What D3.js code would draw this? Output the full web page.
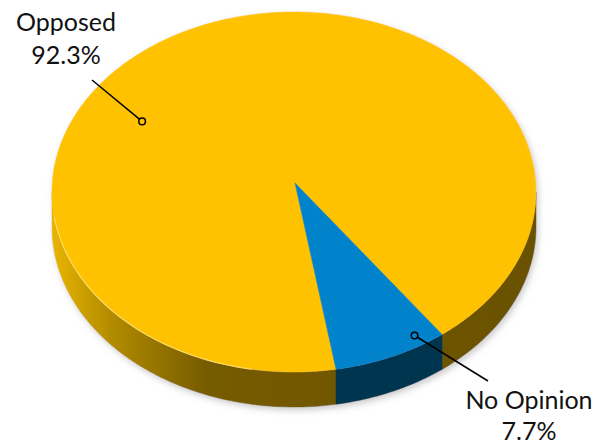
<!DOCTYPE html>
<html lang="en">
<head>
<meta charset="UTF-8">
<title>Opinion pie</title>
<script src="https://d3js.org/d3.v7.min.js"></script>
<style>
  body { margin: 0; background: #fff; }
  text { font-family: Lato, "Open Sans", sans-serif; fill: #111; }
</style>
</head>
<body>
<div id="chart"></div>
<script>
// data
var categories = ["Opposed", "No Opinion"];
var shares = [92.3, 7.7];
var pctLabels = ["92.3%", "7.7%"];

var width = 600, height = 445;
var cx = 294, cy = 192, rx = 242, ry = 180, depth = 35;
var apex = [295, 183];

var topColors = ["#ffc200", "#0583cb"];
var sideColors = ["url(#goldSide)", "#003550"];

var svg = d3.select("#chart").append("svg")
    .attr("width", width)
    .attr("height", height);

var defs = svg.append("defs");
var g1 = defs.append("linearGradient").attr("id", "goldSide")
    .attr("gradientUnits", "userSpaceOnUse")
    .attr("x1", cx - rx).attr("x2", cx + rx).attr("y1", 0).attr("y2", 0);
g1.append("stop").attr("offset", "0%").attr("stop-color", "#e8b500");
g1.append("stop").attr("offset", "12%").attr("stop-color", "#b38c00");
g1.append("stop").attr("offset", "32%").attr("stop-color", "#765b00");
g1.append("stop").attr("offset", "100%").attr("stop-color", "#6a5100");

var f = defs.append("filter").attr("id", "shadow")
    .attr("x", "-10%").attr("y", "-10%").attr("width", "120%").attr("height", "130%");
f.append("feDropShadow").attr("dx", 2).attr("dy", 3).attr("stdDeviation", 3)
    .attr("flood-color", "#999").attr("flood-opacity", 0.5);

// d3 angle (0 = 12 o'clock, clockwise) -> point on the top ellipse
function pt(a, dy) {
  return [cx + rx * Math.sin(a), cy - ry * Math.cos(a) + (dy || 0)];
}
function arcPts(a0, a1, dy) {
  var n = Math.max(2, Math.ceil(Math.abs(a1 - a0) / 0.02));
  return d3.range(n + 1).map(function(i) { return pt(a0 + (a1 - a0) * i / n, dy); });
}
var line = d3.line();

var pie = d3.pie().sort(null)
    .startAngle(170 * Math.PI / 180)
    .endAngle(170 * Math.PI / 180 + 2 * Math.PI);
var arcs = pie(shares);

var pieG = svg.append("g").attr("filter", "url(#shadow)");

// side walls: only the front half (d3 angles 90deg..270deg) is visible
var front0 = Math.PI / 2, front1 = 3 * Math.PI / 2;
arcs.forEach(function(d, i) {
  [-2 * Math.PI, 0, 2 * Math.PI].forEach(function(shift) {
    var a0 = Math.max(d.startAngle + shift, front0);
    var a1 = Math.min(d.endAngle + shift, front1);
    if (a1 <= a0) return;
    var pts = arcPts(a0, a1, 0).concat(arcPts(a1, a0, depth));
    pieG.append("path")
        .attr("d", line(pts) + "Z")
        .attr("fill", sideColors[i])
        .attr("stroke", sideColors[i])
        .attr("stroke-width", 0.5);
  });
});

// top face
arcs.forEach(function(d, i) {
  var pts = [apex].concat(arcPts(d.startAngle, d.endAngle, 0));
  pieG.append("path")
      .attr("d", line(pts) + "Z")
      .attr("fill", topColors[i])
      .attr("stroke", topColors[i])
      .attr("stroke-width", 0.5);
});

// faint rim highlight on the front-left edge
svg.append("path")
    .attr("d", line(arcPts(190 * Math.PI / 180, 262 * Math.PI / 180, 0)))
    .attr("fill", "none")
    .attr("stroke", "#ffe27a")
    .attr("stroke-width", 1.2)
    .attr("opacity", 0.8);

// labels
var anchors = [
  { a: 302 * Math.PI / 180, r: 0.74, end: [92, 80], tx: 66, ty: [31, 64] },
  { a: 148 * Math.PI / 180, r: 0.94, end: [488, 381], tx: 529, ty: [409, 440] }
];
var labG = svg.append("g");
arcs.forEach(function(d, i) {
  var L = anchors[i];
  var p = [cx + rx * L.r * Math.sin(L.a), cy - ry * L.r * Math.cos(L.a)];
  labG.append("line")
      .attr("x1", p[0]).attr("y1", p[1])
      .attr("x2", L.end[0]).attr("y2", L.end[1])
      .attr("stroke", "#000").attr("stroke-width", 1.5);
  labG.append("circle")
      .attr("cx", p[0]).attr("cy", p[1]).attr("r", 3.3)
      .attr("fill", topColors[i]).attr("stroke", "#000").attr("stroke-width", 1.5);
  labG.append("text")
      .attr("x", L.tx).attr("y", L.ty[0])
      .attr("text-anchor", "middle").attr("font-size", 25)
      .text(categories[i]);
  labG.append("text")
      .attr("x", L.tx).attr("y", L.ty[1])
      .attr("text-anchor", "middle").attr("font-size", 25)
      .text(pctLabels[i]);
});
</script>
</body>
</html>
